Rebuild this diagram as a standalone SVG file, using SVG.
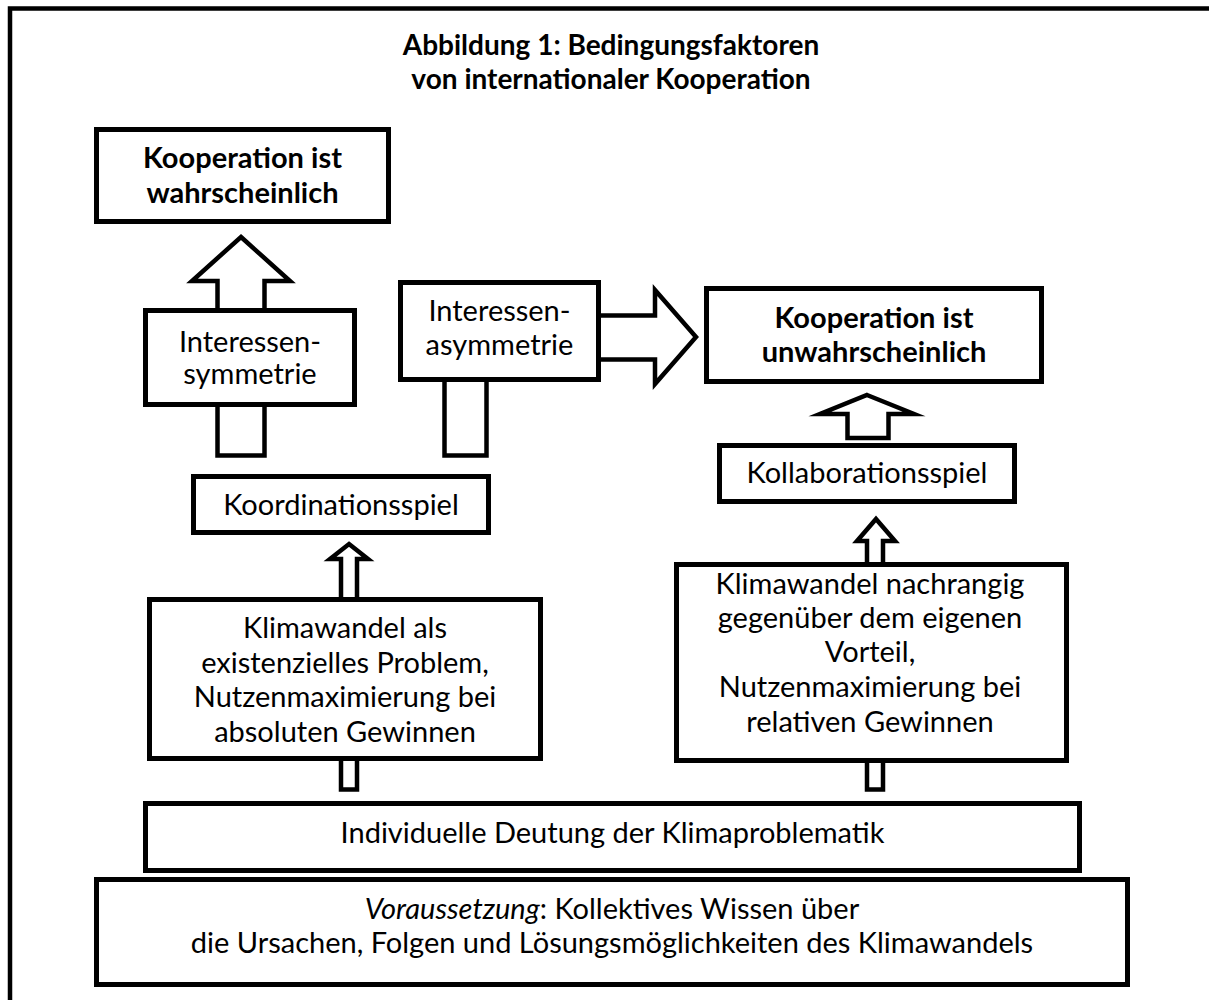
<svg xmlns="http://www.w3.org/2000/svg" width="1209" height="1000" viewBox="0 0 1209 1000">
<style>
.box{fill:#fff;stroke:#000;stroke-width:5}
.arr{fill:#fff;stroke:#000;stroke-width:4.5;stroke-linejoin:miter;stroke-miterlimit:10}
.frame{fill:none;stroke:#000;stroke-width:4.5}
text{font-family:Lato,"Open Sans","Liberation Sans",sans-serif;font-size:29px;fill:#000;text-anchor:middle}
.b{font-weight:700}
.t{font-weight:700;font-size:28px}
</style>
<rect width="1209" height="1000" fill="#fff"/>
<rect class="frame" x="10" y="8.5" width="1300" height="1100"/>
<g id="title">
<text class="t" x="611" y="55">Abbildung 1: Bedingungsfaktoren</text>
<text class="t" x="611" y="89">von internationaler Kooperation</text>
</g>
<g id="connectors">
<polygon class="arr" points="241,237 290,281 264.5,281 264.5,455.5 217.5,455.5 217.5,281 192,281"/>
<polygon class="arr" points="444.5,360 444.5,455.5 486.5,455.5 486.5,360"/>
<polygon class="arr" points="580,315.5 655,315.5 655,290 696,337 655,384 655,359.5 580,359.5"/>
<polygon class="arr" points="867,395 914,414 888.5,414 888.5,438 847.5,438 847.5,414 820,414"/>
<polygon class="arr" points="876,519 895,541 883,541 883,575 867,575 867,541 857,541"/>
<polygon class="arr" points="349,544 368,559 357,559 357,610 341,610 341,559 330,559"/>
<polygon class="arr" points="341,750 341,789.5 357,789.5 357,750"/>
<polygon class="arr" points="867,750 867,789.5 883,789.5 883,750"/>
</g>
<g id="n-kw">
<rect class="box" x="96.5" y="129.5" width="292" height="92"/>
<text class="b" x="242.5" y="168">Kooperation ist</text>
<text class="b" x="242.5" y="203">wahrscheinlich</text>
</g>
<g id="n-is">
<rect class="box" x="145.5" y="310.5" width="209" height="94"/>
<text x="250" y="352">Interessen-</text>
<text x="250" y="384">symmetrie</text>
</g>
<g id="n-ia">
<rect class="box" x="400.5" y="282.5" width="198" height="97"/>
<text x="499.5" y="321">Interessen-</text>
<text x="499.5" y="355">asymmetrie</text>
</g>
<g id="n-ku">
<rect class="box" x="706.5" y="288.5" width="335" height="93"/>
<text class="b" x="874" y="328">Kooperation ist</text>
<text class="b" x="874" y="362">unwahrscheinlich</text>
</g>
<g id="n-ks">
<rect class="box" x="193.5" y="476.5" width="295" height="56"/>
<text x="341" y="515">Koordinationsspiel</text>
</g>
<g id="n-kl">
<rect class="box" x="719.5" y="445.5" width="295" height="56"/>
<text x="867" y="483">Kollaborationsspiel</text>
</g>
<g id="n-lb">
<rect class="box" x="149.5" y="599.5" width="391" height="159"/>
<text x="345" y="638">Klimawandel als</text>
<text x="345" y="673">existenzielles Problem,</text>
<text x="345" y="707">Nutzenmaximierung bei</text>
<text x="345" y="742">absoluten Gewinnen</text>
</g>
<g id="n-rb">
<rect class="box" x="676.5" y="564.5" width="390" height="196"/>
<text x="870" y="594">Klimawandel nachrangig</text>
<text x="870" y="628">gegenüber dem eigenen</text>
<text x="870" y="662">Vorteil,</text>
<text x="870" y="697">Nutzenmaximierung bei</text>
<text x="870" y="732">relativen Gewinnen</text>
</g>
<g id="n-id">
<rect class="box" x="145.5" y="803.5" width="934" height="67"/>
<text x="612.5" y="843">Individuelle Deutung der Klimaproblematik</text>
</g>
<g id="n-vo">
<rect class="box" x="96.5" y="879.5" width="1031" height="105"/>
<text x="612" y="919"><tspan font-style="italic">Voraussetzung</tspan>: Kollektives Wissen über</text>
<text x="612" y="953">die Ursachen, Folgen und Lösungsmöglichkeiten des Klimawandels</text>
</g>
</svg>
